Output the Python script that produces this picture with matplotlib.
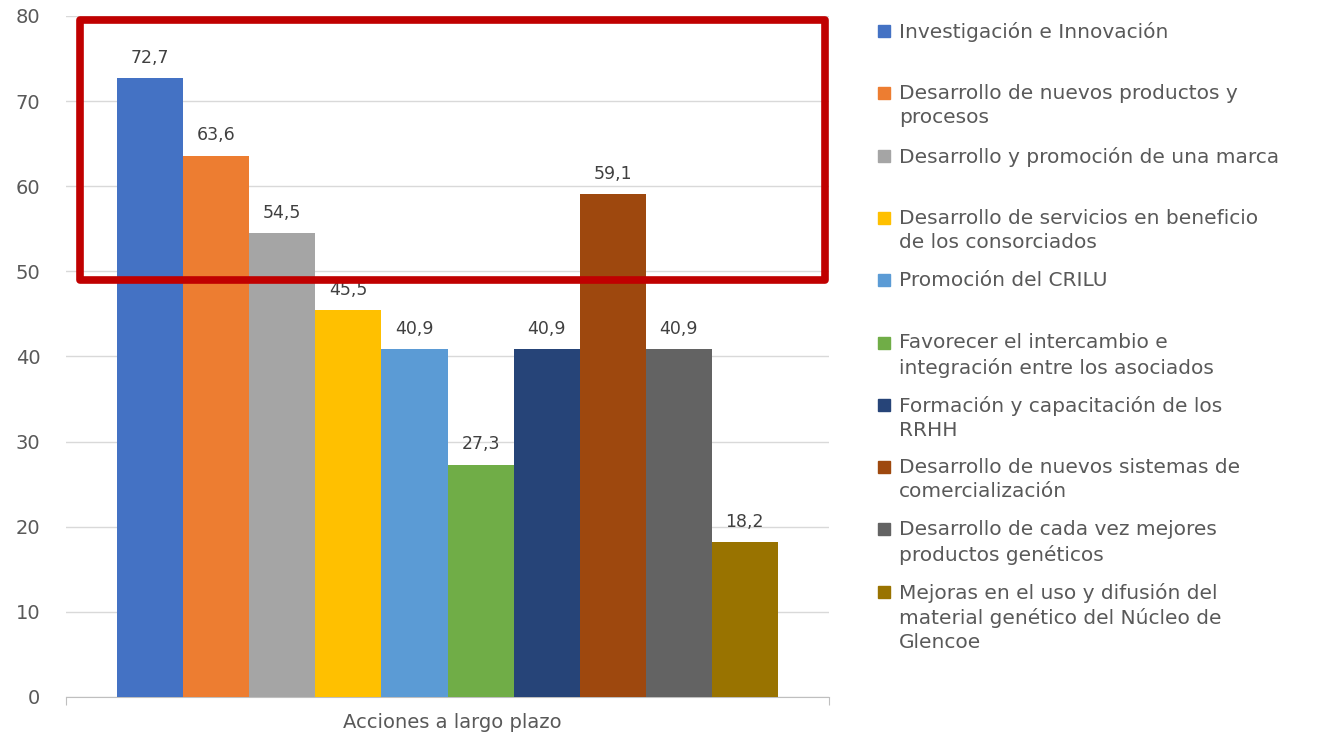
import numpy as np
import matplotlib
matplotlib.use("Agg")
import matplotlib.pyplot as plt
from matplotlib.patches import Rectangle

# datos
acciones = [
    "Investigación e Innovación",
    "Desarrollo de nuevos productos y\nprocesos",
    "Desarrollo y promoción de una marca",
    "Desarrollo de servicios en beneficio\nde los consorciados",
    "Promoción del CRILU",
    "Favorecer el intercambio e\nintegración entre los asociados",
    "Formación y capacitación de los\nRRHH",
    "Desarrollo de nuevos sistemas de\ncomercialización",
    "Desarrollo de cada vez mejores\nproductos genéticos",
    "Mejoras en el uso y difusión del\nmaterial genético del Núcleo de\nGlencoe",
]
porcentajes = [72.7, 63.6, 54.5, 45.5, 40.9, 27.3, 40.9, 59.1, 40.9, 18.2]
colores = ["#4472C4", "#ED7D31", "#A5A5A5", "#FFC000", "#5B9BD5",
           "#70AD47", "#264478", "#9E480E", "#636363", "#997300"]
categoria = "Acciones a largo plazo"

plt.rcParams['font.family'] = ['DejaVu Sans']

fig = plt.figure(figsize=(13.2, 7.32), dpi=100)
ax = fig.add_axes([66 / 1320, 1 - 697 / 732, (829 - 66) / 1320, (697 - 16) / 732])

n = len(porcentajes)
ancho = 0.0866
x = (np.arange(n) - (n - 1) / 2) * ancho
ax.bar(x, porcentajes, width=ancho, color=colores, zorder=3)

for xi, v in zip(x, porcentajes):
    ax.annotate(f"{v:.1f}".replace(".", ","), (xi, v), xytext=(0, 8),
                textcoords="offset points", ha="center", va="bottom",
                fontsize=12.5, color="#404040")

ax.set_xlim(-0.5, 0.5)
ax.set_ylim(0, 80)
ax.set_yticks(range(0, 81, 10))
ax.yaxis.grid(True, color="#d9d9d9", linewidth=1, zorder=0)
ax.tick_params(axis="y", length=0, pad=18.5, labelsize=14, labelcolor="#595959")
ax.set_xticks([-0.5, 0.5])
ax.set_xticklabels(["", ""])
ax.tick_params(axis="x", length=6, color="#bfbfbf", direction="out")
for s in ["top", "right", "left"]:
    ax.spines[s].set_visible(False)
ax.spines["bottom"].set_color("#bfbfbf")
fig.text(452 / 1320, 1 - 722 / 732, categoria, ha="center", va="center",
         fontsize=14, color="#595959")

# leyenda manual
for i, (lab, c) in enumerate(zip(acciones, colores)):
    yc = 1 - (31 + 62.3 * i) / 732
    fig.patches.append(Rectangle((878 / 1320, yc - 6 / 732), 12 / 1320, 12 / 732,
                                 transform=fig.transFigure, color=c))
    fig.text(899 / 1320, yc + 9 / 732, lab, ha="left", va="top", fontsize=14.5,
             color="#595959", linespacing=1.32)

# recuadro rojo
fig.patches.append(Rectangle((80 / 1320, 1 - 280 / 732), 745 / 1320, 260 / 732,
                             transform=fig.transFigure, fill=False,
                             edgecolor="#C00000", linewidth=5.5, joinstyle="round",
                             zorder=10))

fig.savefig("out.png", dpi=100)
